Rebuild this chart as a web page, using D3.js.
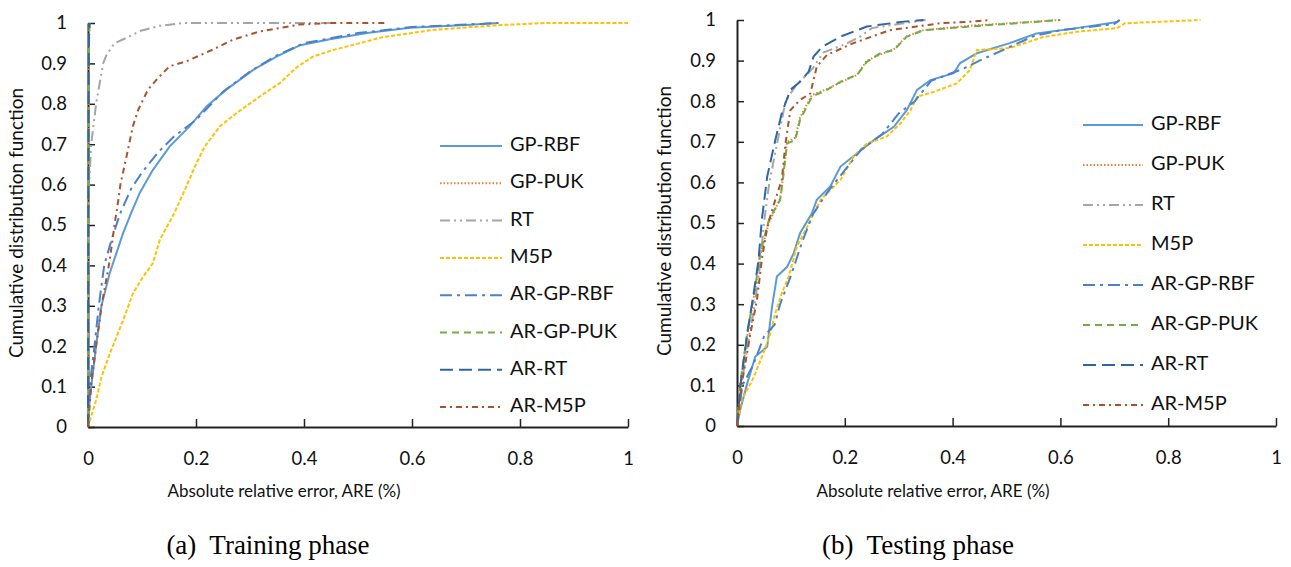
<!DOCTYPE html>
<html>
<head>
<meta charset="utf-8">
<script src="https://cdn.jsdelivr.net/npm/d3@7"></script>
<style>
  body { margin: 0; background: #fff; }
  svg { display: block; }
  .tick text { font-family: Lato, "Open Sans", sans-serif; fill: #111; }
</style>
</head>
<body>
<div id="vis"></div>
<script>
var width = 1291,
    height = 567;

// series in legend order
var seriesNames = ["GP-RBF", "GP-PUK", "RT", "M5P", "AR-GP-RBF", "AR-GP-PUK", "AR-RT", "AR-M5P"];
var seriesColors = ["#5B9BD5", "#ED7D31", "#A5A5A5", "#FFC000", "#4A80CC", "#70AD47", "#2F65A7", "#A9532A"];
var seriesDash = ["none", "1.5,2", "10,4,2,4,2,4", "4,2", "12,5,3,5", "7,5", "13,6", "6,4,2,4"];

var xTicks = [0, 0.2, 0.4, 0.6, 0.8, 1];
var yTicks = [0, 0.1, 0.2, 0.3, 0.4, 0.5, 0.6, 0.7, 0.8, 0.9, 1];

// (a) training phase, [ARE, CDF]
var trainGpRbf = [[0,0],[0.003,0.066],[0.015,0.2],[0.025,0.3],[0.04,0.38],[0.065,0.48],[0.08,0.53],[0.096,0.58],[0.12,0.636],[0.151,0.694],[0.188,0.744],[0.219,0.793],[0.256,0.835],[0.306,0.884],[0.349,0.917],[0.393,0.945],[0.448,0.96],[0.517,0.975],[0.596,0.988],[0.7,0.995],[0.76,1]];
var trainGpPuk = [[0,0],[0.0005,0.3],[0.001,0.6],[0.0015,0.85],[0.002,0.95],[0.003,1]];
var trainRt = [[0,0],[0.001,0.3],[0.002,0.6],[0.006,0.7],[0.015,0.8],[0.028,0.9],[0.034,0.92],[0.049,0.95],[0.071,0.963],[0.096,0.98],[0.133,0.993],[0.176,1],[0.45,1]];
var trainM5p = [[0,0],[0.015,0.066],[0.025,0.124],[0.04,0.18],[0.065,0.264],[0.083,0.33],[0.102,0.372],[0.12,0.405],[0.133,0.463],[0.16,0.53],[0.182,0.595],[0.198,0.645],[0.216,0.694],[0.244,0.744],[0.275,0.777],[0.318,0.818],[0.355,0.851],[0.386,0.89],[0.417,0.917],[0.454,0.933],[0.546,0.965],[0.64,0.983],[0.763,0.995],[0.85,1],[1,1]];
var trainArGpRbf = [[0,0],[0.003,0.1],[0.012,0.2],[0.02,0.3],[0.03,0.4],[0.045,0.47],[0.06,0.53],[0.08,0.59],[0.1,0.63],[0.13,0.68],[0.16,0.72],[0.2,0.76],[0.25,0.83],[0.3,0.88],[0.35,0.92],[0.4,0.95],[0.5,0.975],[0.6,0.99],[0.76,1]];
var trainArGpPuk = [[0,0],[0.0005,0.4],[0.001,0.7],[0.0015,0.9],[0.002,0.97],[0.003,1]];
var trainArRt = [[0,0],[0.0005,0.5],[0.001,0.8],[0.0015,0.93],[0.002,0.98],[0.003,1]];
var trainArM5p = [[0,0],[0.006,0.107],[0.015,0.2],[0.025,0.3],[0.04,0.41],[0.049,0.5],[0.056,0.56],[0.06,0.6],[0.074,0.686],[0.083,0.744],[0.093,0.785],[0.111,0.835],[0.127,0.86],[0.151,0.893],[0.182,0.905],[0.231,0.934],[0.269,0.959],[0.318,0.979],[0.392,0.996],[0.448,1],[0.55,1]];

// (b) testing phase, [ARE, CDF]
var testGpRbf = [[0,0],[0.006,0.04],[0.019,0.105],[0.034,0.171],[0.056,0.195],[0.065,0.294],[0.074,0.368],[0.093,0.392],[0.105,0.425],[0.117,0.475],[0.139,0.524],[0.148,0.557],[0.173,0.59],[0.192,0.639],[0.223,0.672],[0.254,0.704],[0.291,0.737],[0.315,0.778],[0.334,0.828],[0.359,0.852],[0.402,0.869],[0.414,0.894],[0.445,0.918],[0.506,0.943],[0.556,0.967],[0.63,0.98],[0.705,0.995],[0.71,1]];
var testGpPuk = [[0,0],[0.006,0.1],[0.019,0.22],[0.034,0.34],[0.043,0.42],[0.059,0.5],[0.08,0.56],[0.085,0.61],[0.093,0.7],[0.108,0.71],[0.117,0.76],[0.139,0.815],[0.167,0.83],[0.198,0.85],[0.223,0.865],[0.241,0.9],[0.266,0.915],[0.291,0.928],[0.315,0.96],[0.346,0.975],[0.433,0.986],[0.6,1]];
var testRt = [[0,0],[0.008,0.1],[0.02,0.2],[0.033,0.3],[0.043,0.4],[0.05,0.5],[0.06,0.6],[0.075,0.7],[0.09,0.8],[0.11,0.84],[0.14,0.88],[0.16,0.92],[0.2,0.94],[0.23,0.96],[0.25,0.98],[0.3,0.99],[0.35,1]];
var testM5p = [[0,0],[0.009,0.064],[0.031,0.12],[0.049,0.18],[0.062,0.228],[0.071,0.278],[0.083,0.327],[0.096,0.368],[0.111,0.442],[0.13,0.49],[0.155,0.557],[0.192,0.606],[0.216,0.663],[0.241,0.696],[0.278,0.713],[0.303,0.745],[0.322,0.778],[0.334,0.811],[0.365,0.823],[0.408,0.844],[0.432,0.877],[0.445,0.926],[0.506,0.931],[0.568,0.958],[0.63,0.971],[0.705,0.98],[0.72,0.992],[0.86,1]];
var testArGpRbf = [[0,0],[0.01,0.1],[0.03,0.15],[0.05,0.22],[0.07,0.25],[0.08,0.3],[0.1,0.37],[0.12,0.45],[0.14,0.52],[0.17,0.58],[0.2,0.63],[0.23,0.68],[0.27,0.72],[0.3,0.77],[0.33,0.8],[0.36,0.85],[0.42,0.88],[0.45,0.9],[0.5,0.93],[0.55,0.96],[0.6,0.975],[0.7,0.99],[0.71,1]];
var testArGpPuk = [[0,0],[0.006,0.105],[0.019,0.228],[0.034,0.343],[0.043,0.425],[0.059,0.507],[0.08,0.557],[0.085,0.606],[0.093,0.696],[0.108,0.704],[0.117,0.754],[0.139,0.811],[0.167,0.828],[0.198,0.852],[0.223,0.865],[0.241,0.897],[0.266,0.918],[0.291,0.926],[0.315,0.959],[0.346,0.975],[0.433,0.984],[0.6,1]];
var testArRt = [[0,0],[0.006,0.097],[0.019,0.228],[0.031,0.327],[0.04,0.409],[0.046,0.507],[0.056,0.614],[0.071,0.704],[0.083,0.77],[0.099,0.828],[0.117,0.848],[0.133,0.873],[0.142,0.91],[0.158,0.934],[0.192,0.959],[0.241,0.984],[0.309,0.996],[0.346,1]];
var testArM5p = [[0,0],[0.009,0.105],[0.025,0.228],[0.037,0.31],[0.046,0.409],[0.056,0.49],[0.071,0.557],[0.083,0.606],[0.09,0.696],[0.099,0.778],[0.117,0.803],[0.136,0.819],[0.148,0.885],[0.167,0.914],[0.216,0.943],[0.284,0.975],[0.377,0.992],[0.433,0.996],[0.47,1]];

var trainSeries = [trainGpRbf, trainGpPuk, trainRt, trainM5p, trainArGpRbf, trainArGpPuk, trainArRt, trainArM5p];
var testSeries = [testGpRbf, testGpPuk, testRt, testM5p, testArGpRbf, testArGpPuk, testArRt, testArM5p];

var svg = d3.select('#vis').append('svg')
    .attr("width", width)
    .attr("height", height);

function tickFmt(d) {
    return d === 0 || d === 1 ? d : d3.format(".1f")(d);
}

function drawPanel(cfg) {
    var x = d3.scaleLinear().domain([0, 1]).range([cfg.left, cfg.right]);
    var y = d3.scaleLinear().domain([0, 1]).range([cfg.bottom, cfg.top]);
    var g = svg.append("g");

    // axes first, ticks inside like excel
    var xAxis = g.append("g")
        .attr("transform", "translate(0," + cfg.bottom + ")")
        .call(d3.axisBottom(x).tickValues(xTicks).tickSizeInner(-8).tickSizeOuter(0).tickPadding(25).tickFormat(tickFmt));
    xAxis.select(".domain").attr("stroke", "#222").attr("stroke-width", 2);
    xAxis.selectAll(".tick line").attr("stroke", "#222").attr("stroke-width", 1.5);
    xAxis.selectAll("text").style("font-size", "18.5px");

    var yAxis = g.append("g")
        .attr("transform", "translate(" + cfg.left + ",0)")
        .call(d3.axisLeft(y).tickValues(yTicks).tickSizeInner(-7).tickSizeOuter(0).tickPadding(21).tickFormat(tickFmt));
    yAxis.select(".domain").attr("stroke", "#222").attr("stroke-width", 2);
    yAxis.selectAll(".tick line").attr("stroke", "#222").attr("stroke-width", 1.5);
    yAxis.selectAll("text").style("font-size", "18.5px");

    var line = d3.line()
        .x(function(d) { return x(d[0]); })
        .y(function(d) { return y(d[1]); });

    // curves
    cfg.series.forEach(function(s, i) {
        g.append("path")
            .datum(s)
            .attr("d", line)
            .attr("fill", "none")
            .attr("stroke", seriesColors[i])
            .attr("stroke-width", 2)
            .attr("stroke-dasharray", seriesDash[i]);
    });

    // axis titles
    g.append("text")
        .attr("transform", "translate(" + cfg.yTitleX + "," + cfg.yTitleY + ") rotate(-90)")
        .attr("text-anchor", "middle")
        .attr("dominant-baseline", "middle")
        .style("font-family", "Lato, 'Open Sans', sans-serif")
        .style("font-size", "19px")
        .attr("fill", "#111")
        .text("Cumulative distribution function");

    g.append("text")
        .attr("x", cfg.xTitleX)
        .attr("y", 493)
        .attr("text-anchor", "middle")
        .attr("dominant-baseline", "middle")
        .style("font-family", "Lato, 'Open Sans', sans-serif")
        .style("font-size", "17px")
        .attr("fill", "#111")
        .text("Absolute relative error, ARE (%)");

    // caption
    g.append("text")
        .attr("x", cfg.captionX)
        .attr("y", 548)
        .attr("text-anchor", "middle")
        .attr("dominant-baseline", "middle")
        .style("font-family", "'Liberation Serif', 'Times New Roman', serif")
        .style("font-size", "27px")
        .attr("fill", "#000")
        .style("white-space", "pre")
        .text(cfg.caption);

    // legend
    var leg = g.append("g");
    seriesNames.forEach(function(name, i) {
        var ly = cfg.legendY + i * cfg.legendStep;
        leg.append("line")
            .attr("x1", cfg.legendX).attr("x2", cfg.legendX + cfg.legendLen)
            .attr("y1", ly).attr("y2", ly)
            .attr("stroke", seriesColors[i])
            .attr("stroke-width", 2)
            .attr("stroke-dasharray", seriesDash[i]);
        leg.append("text")
            .attr("x", cfg.legendX + cfg.legendLen + 8)
            .attr("y", ly)
            .attr("dominant-baseline", "middle")
            .style("font-family", "Lato, 'Open Sans', sans-serif")
            .style("font-size", "20px")
            .attr("fill", "#111")
            .text(name);
    });
}

drawPanel({
    series: trainSeries,
    left: 88, right: 628, top: 23, bottom: 427,
    yTitleX: 18, yTitleY: 223, xTitleX: 284, captionX: 268,
    caption: "(a)  Training phase",
    legendX: 440, legendLen: 62, legendY: 146, legendStep: 37.3
});

drawPanel({
    series: testSeries,
    left: 737, right: 1276, top: 20, bottom: 426,
    yTitleX: 666, yTitleY: 221, xTitleX: 933, captionX: 918,
    caption: "(b)  Testing phase",
    legendX: 1083, legendLen: 60, legendY: 125, legendStep: 40
});
</script>
</body>
</html>
